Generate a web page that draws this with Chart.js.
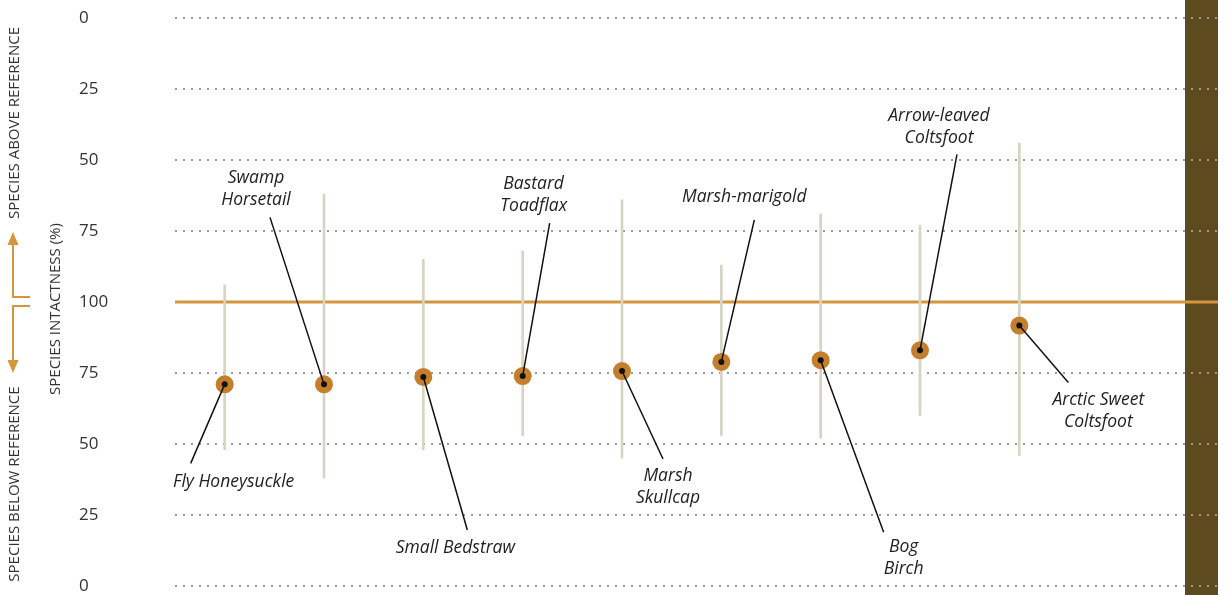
<!DOCTYPE html>
<html>
<head>
<meta charset="utf-8">
<script src="https://cdn.jsdelivr.net/npm/chart.js@4.4.1/dist/chart.umd.min.js"></script>
<style>
    html, body { margin: 0; padding: 0; background: #fff; overflow: hidden; }
    #wrap { width: 1227px; height: 595px; position: relative; }
</style>
</head>
<body>
<div id="wrap"><canvas id="chart"></canvas></div>
<script>
// Données (échelle interne 0..200, 100 = référence)
const species = [
    ['Fly Honeysuckle'], ['Swamp', 'Horsetail'], ['Small Bedstraw'], ['Bastard', 'Toadflax'],
    ['Marsh', 'Skullcap'], ['Marsh-marigold'], ['Bog', 'Birch'], ['Arrow-leaved', 'Coltsfoot'],
    ['Arctic Sweet', 'Coltsfoot']
];
const positions = [1, 2, 3, 4, 5, 6, 7, 8, 9];
const intactness = [71, 71, 73.6, 73.9, 75.7, 78.9, 79.5, 83, 91.7];
const rangeLow = [48, 38, 48, 53, 45, 53, 52, 60, 46];
const rangeHigh = [106, 138, 115, 118, 136, 113, 131, 127, 156];
const referenceValue = 100;
const yTicks = [0, 25, 50, 75, 100, 125, 150, 175, 200];

// Placement des étiquettes (décalages en pixels depuis le point)
const leaderEnd = [[-34, 79], [-54, -167], [44, 153], [27, -153], [41, 88], [33, -142], [63, 172], [37, -196], [49, 57]];
const labelPos = [[9, 98], [-68, -206], [32, 171], [11, -192], [46, 105], [23, -165], [83, 187], [19, -234], [79, 74]];

const ORANGE = '#D4953F';
const DOT = '#C47F2C';
const FONT = '"Open Sans", Lato, sans-serif';

// Plugin pour le fond, les titres et les flèches
const decorPlugin = {
    id: 'decor',
    beforeDraw(chart) {
        const ctx = chart.ctx;
        const area = chart.chartArea;
        ctx.save();
        ctx.fillStyle = '#5E4A1F';
        ctx.fillRect(area.right - 33, 0, 33, chart.height);
        ctx.restore();
    },
    afterDraw(chart) {
        const ctx = chart.ctx;
        const yMid = chart.scales.y.getPixelForValue(referenceValue);
        ctx.save();
        // titres verticaux
        ctx.fillStyle = '#333';
        ctx.font = '15px ' + FONT;
        ctx.textAlign = 'center';
        ctx.textBaseline = 'middle';
        const vText = (txt, x, y) => {
            ctx.save();
            ctx.translate(x, y);
            ctx.rotate(-Math.PI / 2);
            ctx.fillText(txt, 0, 0);
            ctx.restore();
        };
        vText('SPECIES ABOVE REFERENCE', 15, yMid - 179);
        vText('SPECIES BELOW REFERENCE', 15, yMid + 182);
        vText('SPECIES INTACTNESS (%)', 56, yMid + 7);

        // flèches
        ctx.strokeStyle = ORANGE;
        ctx.fillStyle = ORANGE;
        ctx.lineWidth = 2;
        ctx.beginPath();
        ctx.moveTo(30, yMid - 5);
        ctx.lineTo(13, yMid - 5);
        ctx.lineTo(13, yMid - 60);
        ctx.moveTo(30, yMid + 4);
        ctx.lineTo(13, yMid + 4);
        ctx.lineTo(13, yMid + 60);
        ctx.stroke();
        ctx.beginPath();
        ctx.moveTo(13, yMid - 70);
        ctx.lineTo(7.5, yMid - 57);
        ctx.lineTo(18.5, yMid - 57);
        ctx.closePath();
        ctx.moveTo(13, yMid + 71);
        ctx.lineTo(7.5, yMid + 58);
        ctx.lineTo(18.5, yMid + 58);
        ctx.closePath();
        ctx.fill();
        ctx.restore();
    }
};

// Plugin pour les étiquettes et les traits de rappel
const labelPlugin = {
    id: 'speciesLabels',
    afterDatasetsDraw(chart) {
        const ctx = chart.ctx;
        const xs = chart.scales.x, ys = chart.scales.y;
        ctx.save();
        positions.forEach((p, i) => {
            const px = xs.getPixelForValue(p);
            const py = ys.getPixelForValue(intactness[i]);
            ctx.strokeStyle = '#111';
            ctx.lineWidth = 1.5;
            ctx.beginPath();
            ctx.moveTo(px, py);
            ctx.lineTo(px + leaderEnd[i][0], py + leaderEnd[i][1]);
            ctx.stroke();
            ctx.fillStyle = '#111';
            ctx.beginPath();
            ctx.arc(px, py, 3, 0, Math.PI * 2);
            ctx.fill();

            ctx.fillStyle = '#222';
            ctx.font = 'italic 17.5px ' + FONT;
            ctx.textAlign = 'center';
            ctx.textBaseline = 'middle';
            species[i].forEach((line, k) => {
                ctx.fillText(line, px + labelPos[i][0], py + labelPos[i][1] + k * 22);
            });
        });
        ctx.restore();
    }
};

const ctx = document.getElementById('chart').getContext('2d');
window.speciesChart = new Chart(ctx, {
    type: 'scatter',
    data: {
        datasets: [{
            type: 'line',
            label: 'Reference',
            data: [{ x: 0.5, y: referenceValue }, { x: 11, y: referenceValue }],
            borderColor: ORANGE,
            borderWidth: 3,
            pointRadius: 0,
            order: 3
        }, {
            type: 'bar',
            label: 'Range',
            data: positions.map((p, i) => ({ x: p, y: [rangeLow[i], rangeHigh[i]] })),
            backgroundColor: '#D8D4C4',
            barThickness: 2,
            order: 2
        }, {
            label: 'Intactness',
            data: positions.map((p, i) => ({ x: p, y: intactness[i] })),
            backgroundColor: DOT,
            borderWidth: 0,
            pointRadius: 9,
            pointHoverRadius: 9,
            order: 1
        }]
    },
    options: {
        responsive: true,
        maintainAspectRatio: false,
        animation: false,
        layout: { padding: { left: 79, top: 18, bottom: 4, right: 0 } },
        plugins: {
            legend: { display: false },
            tooltip: { enabled: false }
        },
        scales: {
            x: {
                type: 'linear',
                min: 0.5,
                max: 11,
                offset: false,
                display: false
            },
            y: {
                min: 0,
                max: 200,
                afterBuildTicks: (scale) => {
                    scale.ticks = yTicks.map(v => ({ value: v }));
                },
                afterFit: (scale) => {
                    scale.width = 96;
                    scale.paddingTop = 0;
                    scale.paddingBottom = 0;
                },
                ticks: {
                    crossAlign: 'far',
                    color: '#333',
                    font: { family: FONT, size: 17 },
                    callback: (v) => v <= 100 ? v : 200 - v
                },
                grid: {
                    color: '#9a9a9a',
                    lineWidth: 2,
                    drawTicks: false
                },
                border: { display: false, dash: [2, 6] }
            }
        }
    },
    plugins: [decorPlugin, labelPlugin]
});
</script>
</body>
</html>
